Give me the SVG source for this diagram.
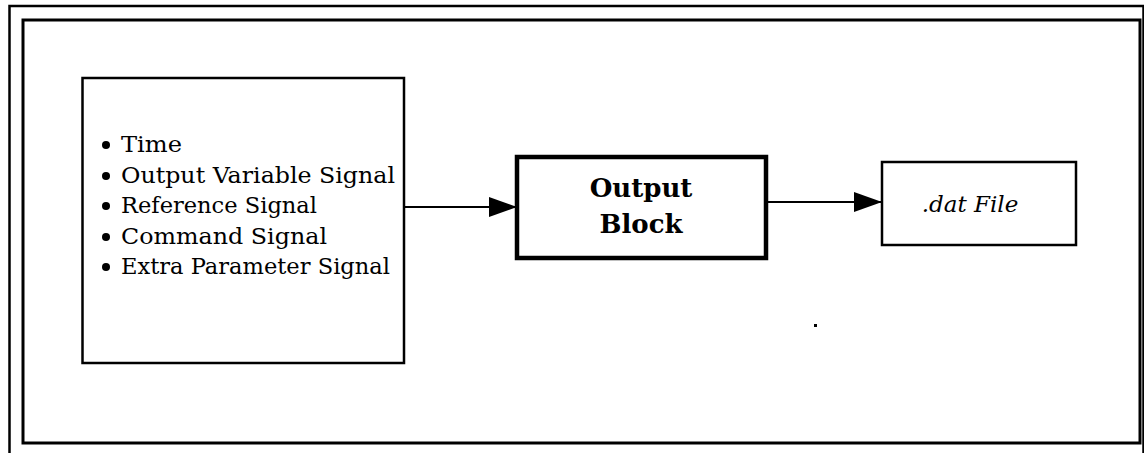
<svg xmlns="http://www.w3.org/2000/svg" width="1144" height="453" viewBox="0 0 1144 453">
  <style>
    .frame { fill: none; stroke: #000; }
    .box { fill: #fff; stroke: #000; stroke-width: 2.5; }
    .wire { fill: none; stroke: #000; stroke-width: 2; }
    .item { font-family: "DejaVu Serif", "Liberation Serif", serif; font-size: 23px; fill: #000; }
    .title { font-family: "DejaVu Serif", "Liberation Serif", serif; font-size: 26px; font-weight: bold; fill: #000; }
    .file { font-family: "DejaVu Serif", "Liberation Serif", serif; font-size: 23px; font-style: italic; fill: #000; }
  </style>
  <defs>
    <marker id="head" viewBox="0 0 28 20" refX="28" refY="10" markerWidth="28" markerHeight="20" markerUnits="userSpaceOnUse" orient="auto">
      <path d="M0,0 L28,10 L0,20 Z" fill="#000"/>
    </marker>
  </defs>
  <rect width="1144" height="453" fill="#fff"/>

  <!-- page borders -->
  <rect class="frame" x="9.5" y="6" width="1134" height="470" stroke-width="2.5"/>
  <rect class="frame" x="23" y="20" width="1117" height="423" stroke-width="3"/>

  <!-- signal list -->
  <g id="signals">
    <rect class="box" x="82.5" y="78" width="321.5" height="285"/>
    <g fill="#000">
      <circle cx="106" cy="145" r="4"/>
      <circle cx="106" cy="176" r="4"/>
      <circle cx="106" cy="206" r="4"/>
      <circle cx="106" cy="237" r="4"/>
      <circle cx="106" cy="267" r="4"/>
    </g>
    <text class="item" x="121" y="152" textLength="61" lengthAdjust="spacingAndGlyphs">Time</text>
    <text class="item" x="121" y="183" textLength="274" lengthAdjust="spacingAndGlyphs">Output Variable Signal</text>
    <text class="item" x="121" y="213" textLength="196" lengthAdjust="spacingAndGlyphs">Reference Signal</text>
    <text class="item" x="121" y="244" textLength="206" lengthAdjust="spacingAndGlyphs">Command Signal</text>
    <text class="item" x="121" y="274" textLength="269" lengthAdjust="spacingAndGlyphs">Extra Parameter Signal</text>
  </g>

  <!-- output block -->
  <g id="output-block">
    <rect x="517" y="157" width="249" height="101" fill="#fff" stroke="#000" stroke-width="4.5"/>
    <text class="title" x="641" y="197" text-anchor="middle">Output</text>
    <text class="title" x="641" y="233" text-anchor="middle">Block</text>
  </g>

  <!-- data file -->
  <g id="dat-file">
    <rect class="box" x="882" y="162" width="194" height="83"/>
    <text class="file" x="970" y="212" text-anchor="middle">.dat File</text>
  </g>

  <g id="connectors">
    <line class="wire" x1="404" y1="207" x2="517" y2="207" marker-end="url(#head)"/>
    <line class="wire" x1="766" y1="202" x2="882" y2="202" marker-end="url(#head)"/>
  </g>

  <rect x="814" y="324" width="3" height="3" fill="#000"/>
</svg>
